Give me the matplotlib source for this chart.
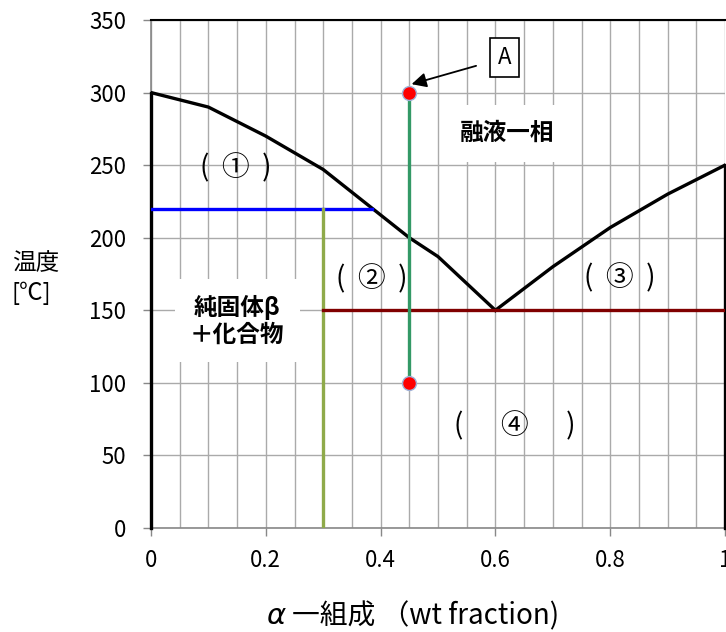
import numpy as np
import matplotlib
matplotlib.use('Agg')
from matplotlib import pyplot as plt

plt.rcParams['font.family'] = ['Noto Sans CJK JP', 'DejaVu Sans']

# liquidus curves
left_x = [0, 0.1, 0.2, 0.3, 0.45, 0.5, 0.6]
left_t = [300, 290, 270, 247, 200, 187, 150]
right_x = [0.6, 0.7, 0.8, 0.9, 1.0]
right_t = [150, 180, 207, 230, 250]

# pure component walls
wall_left = ([0, 0], [0, 300])
wall_right = ([1, 1], [0, 250])

# construction lines
blue_x = [0, 0.385]
blue_t = [220, 220]
olive_x = [0.3, 0.3]
olive_t = [0, 220]
eut_x = [0.3, 1.0]
eut_t = [150, 150]
path_x = [0.45, 0.45]
path_t = [100, 300]

xticks = [0, 0.2, 0.4, 0.6, 0.8, 1.0]
xticklabels = ['0', '0.2', '0.4', '0.6', '0.8', '1']
yticks = [0, 50, 100, 150, 200, 250, 300, 350]

fig = plt.figure(figsize=(7.26, 6.32), dpi=100)
ax = fig.add_axes([151/726, 1-528/632, 574/726, 508/632])

ax.set_xlim(0, 1)
ax.set_ylim(0, 350)
ax.set_xticks(xticks)
ax.set_xticklabels(xticklabels)
ax.set_xticks(np.arange(0, 1.001, 0.05), minor=True)
ax.set_yticks(yticks)
ax.tick_params(axis='both', which='major', labelsize=16, length=6, color='#888888', width=1)
ax.tick_params(axis='x', which='minor', length=0)
ax.tick_params(axis='x', pad=9)
ax.tick_params(axis='y', pad=12)
ax.grid(True, which='both', color='#aaaaaa', linewidth=1)
ax.set_axisbelow(True)
for s in ['left', 'bottom']:
    ax.spines[s].set_color('#888888')
    ax.spines[s].set_linewidth(1.2)
ax.spines['top'].set_color('black')
ax.spines['top'].set_linewidth(1.5)
ax.spines['right'].set_visible(False)

lw = 2.4
ax.plot(*wall_left, color='black', lw=lw, clip_on=False, zorder=3)
ax.plot(*wall_right, color='black', lw=lw, clip_on=False, zorder=3)
ax.plot(left_x, left_t, color='black', lw=lw, zorder=3)
ax.plot(right_x, right_t, color='black', lw=lw, zorder=3)
ax.plot(blue_x, blue_t, color='#0000ff', lw=lw, zorder=3)
ax.plot(olive_x, olive_t, color='#8faa4a', lw=lw, zorder=3)
ax.plot(eut_x, eut_t, color='#800000', lw=lw, zorder=3)
ax.plot(path_x, path_t, color='#339966', lw=lw, zorder=3)
ax.plot(path_x, path_t, 'o', color='red', ms=10, mec='#9db0d8', mew=1, zorder=4, clip_on=False)

# region labels
fs = 20
ax.text(0.147, 248, '(  ①  )', fontsize=fs, ha='center', va='center', zorder=5)
ax.text(0.385, 171, '(  ②  )', fontsize=fs, ha='center', va='center', zorder=5)
ax.text(0.817, 172, '(  ③  )', fontsize=fs, ha='center', va='center', zorder=5)
ax.text(0.633, 70, '(      ④      )', fontsize=fs, ha='center', va='center', zorder=5)

ax.text(0.621, 272, '融液一相', fontsize=17, fontweight='bold', ha='center', va='center',
        zorder=5, bbox=dict(fc='white', ec='none', boxstyle='square,pad=0.7'))
ax.text(0.150, 143, '純固体β\n＋化合物', fontsize=17, fontweight='bold', ha='center', va='center',
        linespacing=1.15, zorder=5, bbox=dict(fc='white', ec='none', boxstyle='square,pad=0.65'))

ax.annotate('A', xy=(0.447, 305), xytext=(0.616, 324), fontsize=16, ha='center', va='center',
            zorder=6, bbox=dict(fc='white', ec='black', lw=1.2, boxstyle='square,pad=0.35'),
            arrowprops=dict(arrowstyle='-|>', color='black', lw=1.3, mutation_scale=22,
                            shrinkA=10, shrinkB=3))

# axis titles
fig.text(12/726, 1-264/632, '温度', fontsize=17, ha='left', va='center')
fig.text(12/726, 1-293/632, '[℃]', fontsize=17, ha='left', va='center')
fig.text(276/726, 1-616/632, 'α', fontsize=21, style='italic', ha='center', va='center',
         family=['DejaVu Sans'])
fig.text(292/726, 1-616/632, '一組成 （wt fraction)', fontsize=20, ha='left', va='center')

fig.savefig('out.png', dpi=100)
